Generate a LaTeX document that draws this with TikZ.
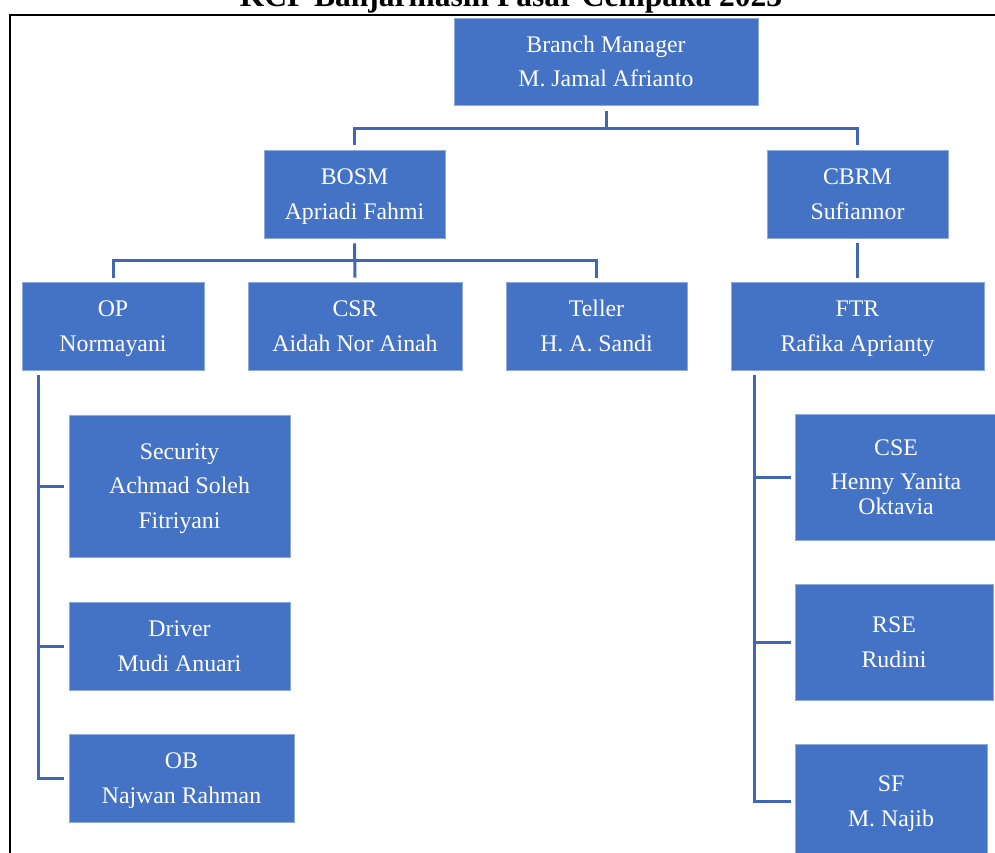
\documentclass[tikz,border=0pt]{standalone}
\usepackage{fontspec}
\setmainfont{Liberation Serif}
\definecolor{boxblue}{HTML}{4472C4}
\definecolor{edgeblue}{HTML}{8EAADB}
\definecolor{lineblue}{HTML}{3F67B4}
\newcommand{\ls}{\rule[-7pt]{0pt}{29.5pt}}
\tikzset{
  orgbox/.style={rectangle, fill=boxblue, draw=edgeblue, line width=0.8pt, text=white, align=center, inner sep=0pt,
    font=\fontsize{23.8}{34.5}\selectfont},
  conn/.style={draw=lineblue, line width=3pt},
  frame/.style={draw=black, line width=1.6pt}
}
\begin{document}
\begin{tikzpicture}[x=1pt,y=-1pt]
\useasboundingbox (0,0) rectangle (995,852);
\clip (0,0) rectangle (995,852);
% frame and title
\node[anchor=base, font=\fontsize{31.5}{36}\selectfont\bfseries] (title) at (511,6) {KCP Banjarmasin Pasar Cempaka 2023};
\draw[frame] (1000,15) -- (10,15) -- (10,860);
% boxes
\node[orgbox, minimum width=304pt, minimum height=87pt] (bm) at (606,61.5) {\ls Branch Manager\\\ls M. Jamal Afrianto};
\node[orgbox, minimum width=181pt, minimum height=88pt] (bosm) at (354.5,194) {\ls BOSM\\\ls Apriadi Fahmi};
\node[orgbox, minimum width=181pt, minimum height=88pt] (cbrm) at (857.5,194) {\ls CBRM\\\ls Sufiannor};
\node[orgbox, minimum width=182pt, minimum height=88pt] (op) at (113,326) {\ls OP\\\ls Normayani};
\node[orgbox, minimum width=214pt, minimum height=88pt] (csr) at (355,326) {\ls CSR\\\ls Aidah Nor Ainah};
\node[orgbox, minimum width=181pt, minimum height=88pt] (teller) at (596.5,326) {\ls Teller\\\ls H. A. Sandi};
\node[orgbox, minimum width=253pt, minimum height=88pt] (ftr) at (857.5,326) {\ls FTR\\\ls Rafika Aprianty};
\node[orgbox, minimum width=221pt, minimum height=142pt] (sec) at (179.5,486) {\ls Security\\\ls Achmad Soleh\\\ls Fitriyani};
\node[orgbox, minimum width=221pt, minimum height=88pt] (drv) at (179.5,646) {\ls Driver\\\ls Mudi Anuari};
\node[orgbox, minimum width=225pt, minimum height=88pt] (ob) at (181.5,778) {\ls OB\\\ls Najwan Rahman};
\node[orgbox, minimum width=202pt, minimum height=126pt] (cse) at (896,477) {\ls CSE\\Henny Yanita\\[-9.5pt]\ls Oktavia};
\node[orgbox, minimum width=198pt, minimum height=116pt] (rse) at (894,642) {\ls RSE\\\ls Rudini};
\node[orgbox, minimum width=192pt, minimum height=114pt] (sf) at (891,801) {\ls SF\\\ls M. Najib};
% junction coordinates
\coordinate (j1) at (606,128);
\coordinate (j2) at (354,260);
\coordinate (opsp) at (38,375);
\coordinate (ftrsp) at (754,375);
% connectors
\draw[conn] ([yshift=-6pt]bm.south) -- (bm.south |- j1);
\draw[conn] ([yshift=5pt]bosm.north) |- (cbrm.north |- j1) -- ([yshift=5pt]cbrm.north);
\draw[conn] ([yshift=-5pt]bosm.south) -- ([yshift=4pt]csr.north);
\draw[conn] ([yshift=4pt]op.north) |- (teller.north |- j2) -- ([yshift=4pt]teller.north);
\draw[conn] ([yshift=-5pt]cbrm.south) -- ([yshift=4pt]ftr.north);
\draw[conn] (opsp) |- ([xshift=-5pt]ob.west);
\draw[conn] (opsp |- sec.west) -- ([xshift=-5pt]sec.west);
\draw[conn] (opsp |- drv.west) -- ([xshift=-5pt]drv.west);
\draw[conn] (ftrsp) |- ([xshift=-4pt]sf.west);
\draw[conn] (ftrsp |- cse.west) -- ([xshift=-4pt]cse.west);
\draw[conn] (ftrsp |- rse.west) -- ([xshift=-4pt]rse.west);
\end{tikzpicture}
\end{document}
